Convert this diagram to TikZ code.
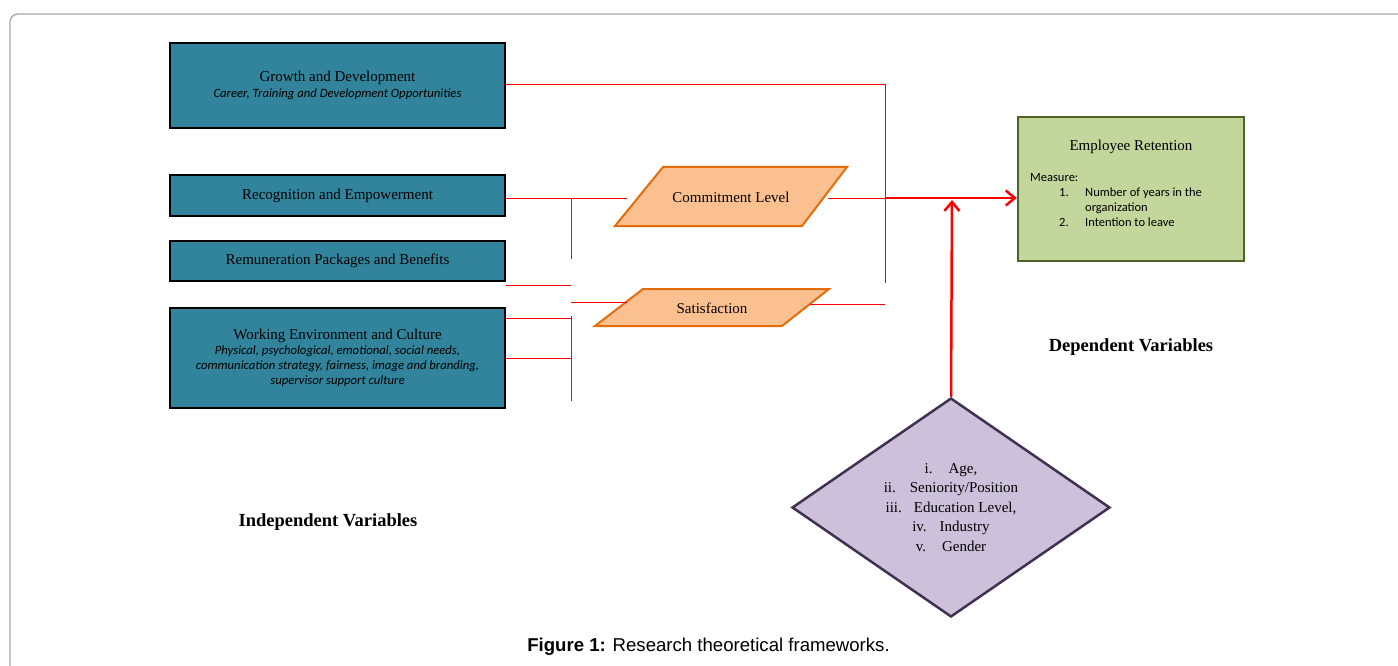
\documentclass[tikz,border=0pt]{standalone}
\usepackage{fontspec}
\setmainfont{Liberation Serif}
\newfontfamily\calfont{Carlito}
\newfontfamily\capfont{Liberation Sans}
\usetikzlibrary{shapes.geometric,arrows.meta}

\definecolor{tealfill}{HTML}{31849B}
\definecolor{parafill}{HTML}{FAC090}
\definecolor{paraline}{HTML}{E46C0A}
\definecolor{retfill}{HTML}{C3D69B}
\definecolor{retline}{HTML}{4F6228}
\definecolor{modfill}{HTML}{CCC0DA}
\definecolor{modline}{HTML}{403152}
\definecolor{framegray}{HTML}{A6A6A6}

\newcommand{\subtxt}{\calfont\itshape\fontsize{12.7}{14}\selectfont}

\tikzset{
  varbox/.style={draw=black, line width=2.5pt, fill=tealfill, minimum width=335,
    align=center, inner sep=0pt, font=\fontsize{15}{16}\selectfont},
  parashape/.style={draw=paraline, line width=2pt, fill=parafill, line join=miter},
  paratext/.style={font=\fontsize{15}{16}\selectfont, inner sep=0pt},
  retbox/.style={draw=retline, line width=2.5pt, fill=retfill},
  modbox/.style={diamond, draw=modline, line width=2.5pt, fill=modfill, shape aspect=1.45,
    minimum width=318, minimum height=219, inner sep=0pt, align=center,
    font=\fontsize{15}{19.5}\selectfont},
  redline/.style={red, line width=1pt},
  redthick/.style={red, line width=2.5pt, -{Straight Barb[length=9pt,width=15pt]}},
  heading/.style={font=\bfseries\fontsize{18.5}{20}\selectfont}
}

\begin{document}
\begin{tikzpicture}[x=1pt,y=-1pt]
    \useasboundingbox (0,0) rectangle (1398,666);
    \draw[framegray, line width=1.3pt, rounded corners=8pt] (1420,14) -- (10,14) -- (10,690);

    % independent variables
    \node[varbox, minimum height=85] (growth) at (337.5,85.5)
      {Growth and Development\\{\subtxt Career, Training and Development Opportunities}};
    \node[varbox, minimum height=41] (recog) at (337.5,195.5) {Recognition and Empowerment};
    \node[varbox, minimum height=40] (remun) at (337.5,261) {Remuneration Packages and Benefits};
    \node[varbox, minimum height=100, font=\fontsize{15}{15}\selectfont] (work) at (337.5,358)
      {Working Environment and Culture\\{\subtxt Physical, psychological, emotional, social needs,}\\
       {\subtxt communication strategy, fairness, image and branding,}\\{\subtxt supervisor support culture}};

    % mediating variables
    \draw[parashape] (615,226) -- (663,167) -- (847,167) -- (802,226) -- cycle;
    \node[paratext] (commit) at (731,197) {Commitment Level};
    \draw[parashape] (595,326) -- (643,289) -- (829,289) -- (782,326) -- cycle;
    \node[paratext] (satis) at (712,308) {Satisfaction};
    \coordinate (commit-in) at (627,198);
    \coordinate (commit-out) at (828,198);
    \coordinate (satis-in) at (627,302);
    \coordinate (satis-out) at (810,304);

    % dependent variable
    \node[retbox, minimum width=226, minimum height=144] (ret) at (1131,189) {};
    \node[font=\fontsize{15}{16}\selectfont] (rettitle) at (1131,147) {Employee Retention};
    \node[anchor=north west, inner sep=0pt, font=\calfont\fontsize{12.5}{15}\selectfont] (measure) at (1030,171)
      {\begin{tabular}{@{\hspace{29pt}}p{26pt}@{}l@{}}
        \multicolumn{2}{@{}l@{}}{Measure:}\\
        1. & Number of years in the\\
           & organization\\
        2. & Intention to leave
       \end{tabular}};

    % moderating variables
    \node[modbox] (mod) at (951,507.5)
      {i.\hspace{16pt}Age,\\ii.\hspace{14pt}Seniority/Position\\iii.\hspace{12pt}Education Level,\\
       iv.\hspace{13pt}Industry\\v.\hspace{16pt}Gender};

    % connectors
    \coordinate (jtop) at (885,85);
    \coordinate (jbot) at (885,283);
    \coordinate (jmid) at (885,198);
    \coordinate (jmod) at (952,200);
    \coordinate (bus) at (571,285);
    \coordinate (wtop) at (571,318);
    \draw[redline] (growth.east |- jtop) -- (jtop) -- (jbot);
    \draw[redline] (recog.east |- commit-in) -- (commit-in);
    \draw[redline] (571,198) -- (571,259);
    \draw[redline] (remun.east |- bus) -- (bus);
    \draw[redline] (571,302) -- (satis-in);
    \draw[redline] (work.east |- wtop) -- (wtop);
    \draw[redline] (work.east) -- (571,358);
    \draw[redline] (571,316) -- (571,401);
    \draw[redline] (commit-out) -- (jmid);
    \draw[redline] (satis-out) -- (jbot |- satis-out);
    \draw[redthick] (jmid) -- (ret.west |- jmid);
    \draw[redthick] (mod.north) -- (jmod);

    % headings
    \node[heading] (deplabel) at (1131,347) {Dependent Variables};
    \node[heading] (indlabel) at (328,522) {Independent Variables};
    \node[font=\capfont\fontsize{18.6}{20}\selectfont] (caption) at (708.5,647)
      {\textbf{Figure 1:} Research theoretical frameworks.};
\end{tikzpicture}
\end{document}
